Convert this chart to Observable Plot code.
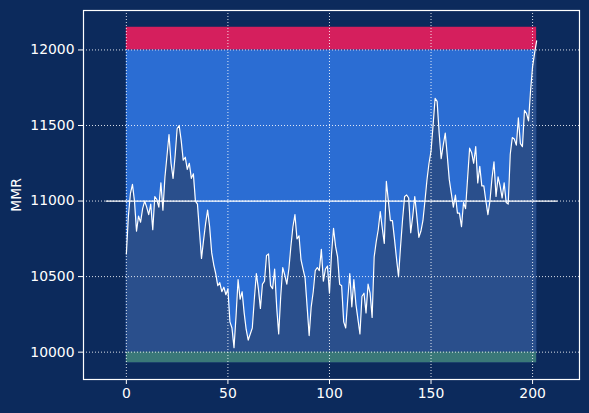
<!DOCTYPE html>
<html>
<head>
<meta charset="utf-8">
<script src="https://cdn.jsdelivr.net/npm/d3@7"></script>
<script src="https://cdn.jsdelivr.net/npm/@observablehq/plot@0.6"></script>
<style>
  html, body { margin: 0; padding: 0; background: #0c2a5c; }
</style>
</head>
<body>
<div id="chart"></div>
<script>
const mmr = [
  10650, 10900, 11050, 11110, 11000, 10800, 10900, 10860, 10950, 11000,
  10960, 10910, 10980, 10810, 11030, 11010, 10960, 11120, 10940, 11160,
  11300, 11440, 11250, 11150, 11300, 11480, 11500, 11400, 11270, 11290,
  11210, 11250, 11150, 11180, 11000, 10980, 10800, 10620, 10740, 10850,
  10940, 10830, 10660, 10580, 10520, 10440, 10460, 10400, 10430, 10380,
  10420, 10200, 10160, 10030, 10240, 10480, 10350, 10400, 10260, 10150,
  10080, 10120, 10160, 10350, 10520, 10420, 10290, 10450, 10470, 10640,
  10650, 10440, 10420, 10550, 10300, 10120, 10370, 10560, 10510, 10450,
  10550, 10700, 10830, 10910, 10750, 10770, 10610, 10550, 10490, 10300,
  10110, 10300, 10400, 10540, 10560, 10540, 10680, 10470, 10550, 10570,
  10390, 10650, 10820, 10700, 10630, 10450, 10440, 10200, 10160, 10350,
  10520, 10300, 10480, 10320, 10220, 10120, 10370, 10390, 10260, 10450,
  10390, 10230, 10630, 10730, 10810, 10930, 10820, 10720, 11130, 11000,
  10870, 10870, 10750, 10620, 10500, 10700, 10880, 11030, 11040, 11020,
  10790, 10900, 11030, 10900, 10760, 10800, 10870, 11000, 11140, 11250,
  11330, 11500, 11680, 11660, 11450, 11280, 11370, 11450, 11300, 11140,
  11050, 10960, 11040, 10920, 10920, 10830, 10990, 10950, 11150, 11350,
  11320, 11250, 11360, 11120, 11230, 11100, 11100, 11000, 10910, 11000,
  11150, 11260, 11030, 11160, 11100, 11020, 11120, 10990, 10980, 11310,
  11420, 11410, 11370, 11550, 11380, 11360, 11600, 11580, 11530, 11730,
  11890, 11980, 12060
];
const games = mmr.map((_, i) => i);

const bandNames = ["below", "range", "above"];
const bandLow   = [9930, 10000, 12000];
const bandHigh  = [10000, 12000, 12150];
const bandStart = 0;
const bandEnd   = 202;

const refValue = 11000;
const refStart = -10;
const refEnd   = 212;

const xTicks = [0, 50, 100, 150, 200];
const yTicks = [10000, 10500, 11000, 11500, 12000];

const series = games.map((g, i) => ({game: g, mmr: mmr[i]}));
const bands = bandNames.map((n, i) => ({name: n, lo: bandLow[i], hi: bandHigh[i], x1: bandStart, x2: bandEnd}));
const ref = [{x: refStart, y: refValue}, {x: refEnd, y: refValue}];
const areaBase = bandLow[0];

const bandColor = {below: "#3a7878", range: "#2b6dd3", above: "#d51f5d"};

const fs = 13.9;
const chart = Plot.plot({
  width: 589,
  height: 413,
  marginLeft: 83,
  marginRight: 10,
  marginTop: 10,
  marginBottom: 34,
  style: {background: "#0c2a5c", fontFamily: "DejaVu Sans", color: "white"},
  x: {domain: [-21.1, 223.1]},
  y: {domain: [9819, 12261]},
  marks: [
    Plot.rect(bands.filter(d => d.name === "range"), {x1: "x1", x2: "x2", y1: "lo", y2: "hi", fill: d => bandColor[d.name]}),
    Plot.areaY(series, {x: "game", y1: areaBase, y2: "mmr", fill: "#2a4f8c"}),
    Plot.rect(bands.filter(d => d.name !== "range"), {x1: "x1", x2: "x2", y1: "lo", y2: "hi", fill: d => bandColor[d.name]}),
    Plot.gridX(xTicks, {stroke: "white", strokeOpacity: 0.95, strokeDasharray: "1,2", strokeWidth: 0.9}),
    Plot.gridY(yTicks, {stroke: "white", strokeOpacity: 0.95, strokeDasharray: "1,2", strokeWidth: 0.9}),
    Plot.line(ref, {x: "x", y: "y", stroke: "white", strokeWidth: 1.3}),
    Plot.line(series, {x: "game", y: "mmr", stroke: "white", strokeWidth: 1.2}),
    Plot.frame({stroke: "white", strokeWidth: 1.2, strokeOpacity: 1}),
    Plot.axisX(xTicks, {color: "white", tickSize: 5, tickPadding: 4, fontSize: fs, tickFormat: "d", label: null}),
    Plot.axisY(yTicks, {color: "white", tickSize: 5, tickPadding: 4, fontSize: fs, tickFormat: "d",
      label: "MMR", labelAnchor: "center", labelArrow: "none", labelOffset: 72})
  ]
});
document.getElementById("chart").appendChild(chart);
</script>
</body>
</html>
